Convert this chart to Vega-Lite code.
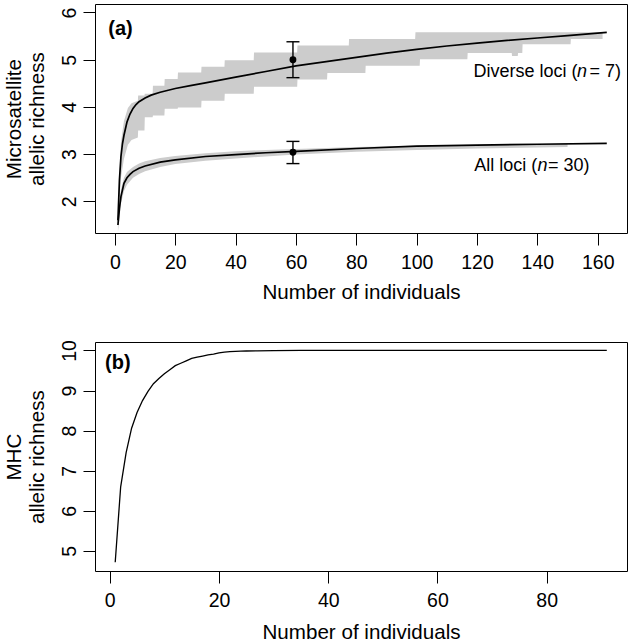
{
  "$schema": "https://vega.github.io/schema/vega-lite/v6.json",
  "padding": {"left": 4, "top": 3, "right": 0, "bottom": 0},
  "spacing": 35,
  "config": {
    "view": {"stroke": "black", "strokeWidth": 1},
    "font": "Liberation Sans",
    "axis": {
      "domain": false, "grid": false, "ticks": true, "tickColor": "black", "tickSize": 12, "tickWidth": 1,
      "labelFont": "Liberation Sans", "labelFontSize": 19.5, "labelColor": "black", "labelPadding": 8,
      "labelOverlap": false, "labelFlush": false,
      "titleFont": "Liberation Sans", "titleFontSize": 20.6, "titleFontWeight": "normal", "titleColor": "black"
    },
    "axisX": {"titleBaseline": "alphabetic", "titleAlign": "center", "titleX": 266},
    "axisY": {
      "labelAngle": -90, "labelAlign": "center", "labelBaseline": "alphabetic",
      "titleAngle": -90, "titleAlign": "center", "titleBaseline": "alphabetic",
      "titleX": -74.3, "titleY": 114.6, "titleLineHeight": 23.3
    }
  },
  "datasets": {
    "bandA": [
      {"series": "Diverse", "x": 1, "lo": 1.45, "hi": 1.65},
      {"series": "Diverse", "x": 1.5, "lo": 2.05, "hi": 2.6},
      {"series": "Diverse", "x": 2, "lo": 2.5, "hi": 3.25},
      {"series": "Diverse", "x": 3, "lo": 2.9, "hi": 3.7},
      {"series": "Diverse", "x": 4.3, "lo": 3.2, "hi": 3.98},
      {"series": "Diverse", "x": 5.5, "lo": 3.3, "hi": 4.08},
      {"series": "Diverse", "x": 7.6, "lo": 3.35, "hi": 4.13},
      {"series": "Diverse", "x": 7.7, "lo": 3.5, "hi": 4.24},
      {"series": "Diverse", "x": 9.8, "lo": 3.5, "hi": 4.24},
      {"series": "Diverse", "x": 9.9, "lo": 3.78, "hi": 4.28},
      {"series": "Diverse", "x": 12.5, "lo": 3.78, "hi": 4.28},
      {"series": "Diverse", "x": 12.6, "lo": 3.82, "hi": 4.45},
      {"series": "Diverse", "x": 16.4, "lo": 3.82, "hi": 4.45},
      {"series": "Diverse", "x": 16.5, "lo": 3.96, "hi": 4.59},
      {"series": "Diverse", "x": 20.8, "lo": 3.96, "hi": 4.59},
      {"series": "Diverse", "x": 20.9, "lo": 3.99, "hi": 4.73},
      {"series": "Diverse", "x": 28.6, "lo": 3.99, "hi": 4.73},
      {"series": "Diverse", "x": 28.7, "lo": 4.13, "hi": 4.85},
      {"series": "Diverse", "x": 36.3, "lo": 4.13, "hi": 4.85},
      {"series": "Diverse", "x": 36.4, "lo": 4.28, "hi": 4.99},
      {"series": "Diverse", "x": 46.0, "lo": 4.28, "hi": 4.99},
      {"series": "Diverse", "x": 46.1, "lo": 4.43, "hi": 5.155},
      {"series": "Diverse", "x": 60.4, "lo": 4.43, "hi": 5.155},
      {"series": "Diverse", "x": 60.5, "lo": 4.58, "hi": 5.3},
      {"series": "Diverse", "x": 70.3, "lo": 4.58, "hi": 5.3},
      {"series": "Diverse", "x": 70.4, "lo": 4.72, "hi": 5.3},
      {"series": "Diverse", "x": 77.5, "lo": 4.72, "hi": 5.3},
      {"series": "Diverse", "x": 77.6, "lo": 4.72, "hi": 5.44},
      {"series": "Diverse", "x": 83.0, "lo": 4.72, "hi": 5.44},
      {"series": "Diverse", "x": 83.1, "lo": 4.87, "hi": 5.44},
      {"series": "Diverse", "x": 99.5, "lo": 4.87, "hi": 5.44},
      {"series": "Diverse", "x": 99.6, "lo": 4.87, "hi": 5.58},
      {"series": "Diverse", "x": 101.0, "lo": 4.87, "hi": 5.58},
      {"series": "Diverse", "x": 101.1, "lo": 5.01, "hi": 5.58},
      {"series": "Diverse", "x": 116.8, "lo": 5.01, "hi": 5.58},
      {"series": "Diverse", "x": 116.9, "lo": 5.14, "hi": 5.58},
      {"series": "Diverse", "x": 131.5, "lo": 5.14, "hi": 5.58},
      {"series": "Diverse", "x": 131.6, "lo": 5.08, "hi": 5.58},
      {"series": "Diverse", "x": 133.5, "lo": 5.08, "hi": 5.58},
      {"series": "Diverse", "x": 133.6, "lo": 5.14, "hi": 5.58},
      {"series": "Diverse", "x": 135.0, "lo": 5.14, "hi": 5.58},
      {"series": "Diverse", "x": 135.1, "lo": 5.33, "hi": 5.58},
      {"series": "Diverse", "x": 151.0, "lo": 5.33, "hi": 5.58},
      {"series": "Diverse", "x": 151.1, "lo": 5.44, "hi": 5.58},
      {"series": "Diverse", "x": 161.6, "lo": 5.44, "hi": 5.58},
      {"series": "All", "x": 1, "lo": 1.35, "hi": 1.6},
      {"series": "All", "x": 2, "lo": 1.95, "hi": 2.25},
      {"series": "All", "x": 3, "lo": 2.22, "hi": 2.5},
      {"series": "All", "x": 4, "lo": 2.35, "hi": 2.62},
      {"series": "All", "x": 6, "lo": 2.5, "hi": 2.73},
      {"series": "All", "x": 8, "lo": 2.58, "hi": 2.8},
      {"series": "All", "x": 10, "lo": 2.64, "hi": 2.85},
      {"series": "All", "x": 15, "lo": 2.73, "hi": 2.92},
      {"series": "All", "x": 20, "lo": 2.79, "hi": 2.96},
      {"series": "All", "x": 30, "lo": 2.86, "hi": 3.02},
      {"series": "All", "x": 40, "lo": 2.91, "hi": 3.06},
      {"series": "All", "x": 50, "lo": 2.95, "hi": 3.09},
      {"series": "All", "x": 60, "lo": 2.99, "hi": 3.11},
      {"series": "All", "x": 80, "lo": 3.05, "hi": 3.15},
      {"series": "All", "x": 100, "lo": 3.09, "hi": 3.18},
      {"series": "All", "x": 120, "lo": 3.12, "hi": 3.2},
      {"series": "All", "x": 140, "lo": 3.14, "hi": 3.21},
      {"series": "All", "x": 150, "lo": 3.15, "hi": 3.22}
    ],
    "meanA": [
      {"series": "Diverse", "x": 1, "y": 1.6},
      {"series": "Diverse", "x": 1.5, "y": 2.45},
      {"series": "Diverse", "x": 2, "y": 2.95},
      {"series": "Diverse", "x": 2.5, "y": 3.22},
      {"series": "Diverse", "x": 3, "y": 3.4},
      {"series": "Diverse", "x": 4, "y": 3.68},
      {"series": "Diverse", "x": 5, "y": 3.85},
      {"series": "Diverse", "x": 6, "y": 3.97},
      {"series": "Diverse", "x": 7, "y": 4.05},
      {"series": "Diverse", "x": 8, "y": 4.11},
      {"series": "Diverse", "x": 10, "y": 4.19},
      {"series": "Diverse", "x": 12, "y": 4.25},
      {"series": "Diverse", "x": 15, "y": 4.31},
      {"series": "Diverse", "x": 20, "y": 4.39},
      {"series": "Diverse", "x": 25, "y": 4.45},
      {"series": "Diverse", "x": 30, "y": 4.51},
      {"series": "Diverse", "x": 40, "y": 4.63},
      {"series": "Diverse", "x": 50, "y": 4.75},
      {"series": "Diverse", "x": 60, "y": 4.87},
      {"series": "Diverse", "x": 70, "y": 4.96},
      {"series": "Diverse", "x": 80, "y": 5.05},
      {"series": "Diverse", "x": 90, "y": 5.14},
      {"series": "Diverse", "x": 100, "y": 5.22},
      {"series": "Diverse", "x": 110, "y": 5.29},
      {"series": "Diverse", "x": 120, "y": 5.35},
      {"series": "Diverse", "x": 130, "y": 5.41},
      {"series": "Diverse", "x": 140, "y": 5.46},
      {"series": "Diverse", "x": 150, "y": 5.51},
      {"series": "Diverse", "x": 163, "y": 5.58},
      {"series": "All", "x": 1, "y": 1.5},
      {"series": "All", "x": 1.5, "y": 1.85},
      {"series": "All", "x": 2, "y": 2.1},
      {"series": "All", "x": 3, "y": 2.38},
      {"series": "All", "x": 4, "y": 2.5},
      {"series": "All", "x": 5, "y": 2.57},
      {"series": "All", "x": 6, "y": 2.63},
      {"series": "All", "x": 8, "y": 2.7},
      {"series": "All", "x": 10, "y": 2.75},
      {"series": "All", "x": 15, "y": 2.83},
      {"series": "All", "x": 20, "y": 2.88},
      {"series": "All", "x": 30, "y": 2.95},
      {"series": "All", "x": 40, "y": 2.99},
      {"series": "All", "x": 50, "y": 3.03},
      {"series": "All", "x": 60, "y": 3.06},
      {"series": "All", "x": 80, "y": 3.12},
      {"series": "All", "x": 100, "y": 3.17},
      {"series": "All", "x": 120, "y": 3.19},
      {"series": "All", "x": 140, "y": 3.21},
      {"series": "All", "x": 163, "y": 3.23}
    ],
    "err": [
      {"series": "Diverse", "x": 59, "y": 5.0, "lo": 4.62, "hi": 5.38},
      {"series": "All", "x": 59, "y": 3.04, "lo": 2.8, "hi": 3.27}
    ],
    "annotA": [
      {"part": "head", "label": "Diverse loci (", "x": 118.8, "y": 4.63},
      {"part": "n", "label": "n", "x": 153.1, "y": 4.63},
      {"part": "tail", "label": "= 7)", "x": 167.7, "y": 4.63},
      {"part": "head", "label": "All loci (", "x": 119.1, "y": 2.64},
      {"part": "n", "label": "n", "x": 140.0, "y": 2.64},
      {"part": "tail", "label": "= 30)", "x": 157.3, "y": 2.64},
      {"part": "panel", "label": "(a)", "x": -2.2, "y": 5.53}
    ],
    "mhc": [
      {"x": 1, "y": 4.72}, {"x": 2, "y": 6.6}, {"x": 3, "y": 7.45}, {"x": 4, "y": 8.06},
      {"x": 5, "y": 8.45}, {"x": 6, "y": 8.75}, {"x": 7, "y": 8.98}, {"x": 8, "y": 9.17},
      {"x": 9, "y": 9.3}, {"x": 10, "y": 9.42}, {"x": 11, "y": 9.52}, {"x": 12, "y": 9.62},
      {"x": 13, "y": 9.68}, {"x": 14, "y": 9.74}, {"x": 15, "y": 9.8}, {"x": 16, "y": 9.83},
      {"x": 17, "y": 9.86}, {"x": 18, "y": 9.89}, {"x": 19, "y": 9.91}, {"x": 20, "y": 9.94},
      {"x": 21, "y": 9.96}, {"x": 22, "y": 9.97}, {"x": 23, "y": 9.975}, {"x": 24, "y": 9.98},
      {"x": 25, "y": 9.985}, {"x": 27, "y": 9.99}, {"x": 30, "y": 9.995}, {"x": 35, "y": 10},
      {"x": 40, "y": 10}, {"x": 50, "y": 10}, {"x": 60, "y": 10}, {"x": 70, "y": 10},
      {"x": 80, "y": 10}, {"x": 91, "y": 10}
    ],
    "annotB": [
      {"label": "(b)", "x": -0.86, "y": 9.53}
    ]
  },
  "vconcat": [
    {
      "width": 532,
      "height": 229,
      "layer": [
        {
          "data": {"name": "bandA"},
          "mark": {"type": "area", "color": "#cccccc", "interpolate": "linear"},
          "encoding": {
            "x": {"field": "x", "type": "quantitative",
                  "scale": {"domain": [-6.6, 169.7], "nice": false, "zero": false},
                  "axis": {"values": [0, 20, 40, 60, 80, 100, 120, 140, 160], "title": "Number of individuals", "titleY": 65.6}},
            "y": {"field": "lo", "type": "quantitative",
                  "scale": {"domain": [1.33, 6.18], "nice": false, "zero": false},
                  "axis": {"values": [2, 3, 4, 5, 6], "title": ["Microsatellite", "allelic richness"]}},
            "y2": {"field": "hi"},
            "detail": {"field": "series"}
          }
        },
        {
          "data": {"name": "meanA"},
          "mark": {"type": "line", "color": "black", "strokeWidth": 1.7},
          "encoding": {
            "x": {"field": "x", "type": "quantitative"},
            "y": {"field": "y", "type": "quantitative"},
            "detail": {"field": "series"}
          }
        },
        {
          "data": {"name": "err"},
          "mark": {"type": "rule", "color": "black", "strokeWidth": 1.4},
          "encoding": {
            "x": {"field": "x", "type": "quantitative"},
            "y": {"field": "lo", "type": "quantitative"},
            "y2": {"field": "hi"}
          }
        },
        {
          "data": {"name": "err"},
          "mark": {"type": "tick", "orient": "horizontal", "color": "black", "size": 13, "thickness": 1.4, "opacity": 1},
          "encoding": {
            "x": {"field": "x", "type": "quantitative"},
            "y": {"field": "hi", "type": "quantitative"}
          }
        },
        {
          "data": {"name": "err"},
          "mark": {"type": "tick", "orient": "horizontal", "color": "black", "size": 13, "thickness": 1.4, "opacity": 1},
          "encoding": {
            "x": {"field": "x", "type": "quantitative"},
            "y": {"field": "lo", "type": "quantitative"}
          }
        },
        {
          "data": {"name": "err"},
          "mark": {"type": "point", "filled": true, "color": "black", "size": 47, "opacity": 1},
          "encoding": {
            "x": {"field": "x", "type": "quantitative"},
            "y": {"field": "y", "type": "quantitative"}
          }
        },
        {
          "data": {"name": "annotA"},
          "transform": [{"filter": "datum.part === 'head'"}],
          "mark": {"type": "text", "align": "left", "baseline": "alphabetic", "fontSize": 18, "font": "Liberation Sans", "color": "black"},
          "encoding": {
            "x": {"field": "x", "type": "quantitative"},
            "y": {"field": "y", "type": "quantitative"},
            "text": {"field": "label"}
          }
        },
        {
          "data": {"name": "annotA"},
          "transform": [{"filter": "datum.part === 'n'"}],
          "mark": {"type": "text", "align": "left", "baseline": "alphabetic", "fontSize": 18, "fontStyle": "italic", "font": "Liberation Sans", "color": "black"},
          "encoding": {
            "x": {"field": "x", "type": "quantitative"},
            "y": {"field": "y", "type": "quantitative"},
            "text": {"field": "label"}
          }
        },
        {
          "data": {"name": "annotA"},
          "transform": [{"filter": "datum.part === 'tail'"}],
          "mark": {"type": "text", "align": "right", "baseline": "alphabetic", "fontSize": 18, "font": "Liberation Sans", "color": "black"},
          "encoding": {
            "x": {"field": "x", "type": "quantitative"},
            "y": {"field": "y", "type": "quantitative"},
            "text": {"field": "label"}
          }
        },
        {
          "data": {"name": "annotA"},
          "transform": [{"filter": "datum.part === 'panel'"}],
          "mark": {"type": "text", "align": "left", "baseline": "alphabetic", "fontSize": 20, "fontWeight": "bold", "font": "Liberation Sans", "color": "black"},
          "encoding": {
            "x": {"field": "x", "type": "quantitative"},
            "y": {"field": "y", "type": "quantitative"},
            "text": {"field": "label"}
          }
        }
      ]
    },
    {
      "width": 532,
      "height": 229,
      "layer": [
        {
          "data": {"name": "mhc"},
          "mark": {"type": "line", "color": "black", "strokeWidth": 1.3},
          "encoding": {
            "x": {"field": "x", "type": "quantitative",
                  "scale": {"domain": [-2.7, 94.7], "nice": false, "zero": false},
                  "axis": {"values": [0, 20, 40, 60, 80], "title": "Number of individuals", "titleY": 67.3}},
            "y": {"field": "y", "type": "quantitative",
                  "scale": {"domain": [4.5, 10.21], "nice": false, "zero": false},
                  "axis": {"values": [5, 6, 7, 8, 9, 10], "title": ["MHC", "allelic richness"]}}
          }
        },
        {
          "data": {"name": "annotB"},
          "mark": {"type": "text", "align": "left", "baseline": "alphabetic", "fontSize": 20, "fontWeight": "bold", "font": "Liberation Sans", "color": "black"},
          "encoding": {
            "x": {"field": "x", "type": "quantitative"},
            "y": {"field": "y", "type": "quantitative"},
            "text": {"field": "label"}
          }
        }
      ]
    }
  ]
}
